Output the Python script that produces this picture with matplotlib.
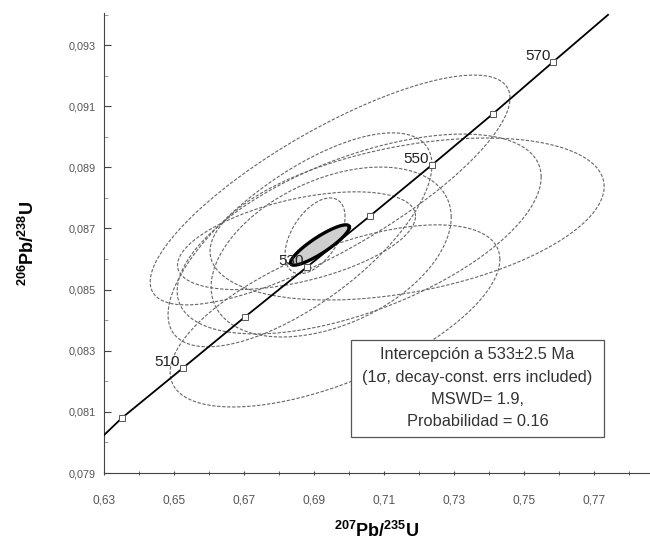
import numpy as np
import matplotlib
matplotlib.use('Agg')
import matplotlib.pyplot as plt
from matplotlib.patches import Rectangle
from matplotlib.ticker import FuncFormatter

plt.rcParams['font.family'] = ['Liberation Sans', 'DejaVu Sans']
plt.rcParams['mathtext.fontset'] = 'custom'
plt.rcParams['mathtext.rm'] = 'Liberation Sans'
plt.rcParams['mathtext.bf'] = 'Liberation Sans:bold'

# concordia curve
conc_x = [0.630, 0.6351, 0.6526, 0.6703, 0.6880, 0.7060, 0.7237, 0.7411, 0.7583, 0.7740]
conc_y = [0.08024, 0.08080, 0.08244, 0.08411, 0.08574, 0.08741, 0.08908, 0.09075, 0.09245, 0.09399]

# age marks on the concordia
ages = [500, 510, 520, 530, 540, 550, 560, 570]
age_x = [0.6351, 0.6526, 0.6703, 0.6880, 0.7060, 0.7237, 0.7411, 0.7583]
age_y = [0.08080, 0.08244, 0.08411, 0.08574, 0.08741, 0.08908, 0.09075, 0.09245]
age_labels = [510, 530, 550, 570]

# analyses: centre, half-widths, correlation
ell_x = [0.6946, 0.7166, 0.7029, 0.6949, 0.6960, 0.6860, 0.6850, 0.6903]
ell_y = [0.08826, 0.08731, 0.08682, 0.08623, 0.08414, 0.08663, 0.08660, 0.08676]
ell_sx = [0.0514, 0.0563, 0.0520, 0.0343, 0.0471, 0.0377, 0.0340, 0.00857]
ell_sy = [0.00376, 0.00265, 0.00327, 0.00278, 0.00298, 0.00350, 0.00160, 0.00124]
ell_rho = [0.80, 0.40, 0.57, 0.41, 0.62, 0.70, 0.50, 0.50]

# mean (intercept) ellipse
mean_x, mean_y = 0.6917, 0.08646
mean_sx, mean_sy, mean_rho = 0.0084, 0.00066, 0.88

x_ticks = [0.63, 0.65, 0.67, 0.69, 0.71, 0.73, 0.75, 0.77]
x_minor = [0.64, 0.66, 0.68, 0.70, 0.72, 0.74, 0.76, 0.78]
y_ticks = [0.079, 0.081, 0.083, 0.085, 0.087, 0.089, 0.091, 0.093]
y_minor = [0.080, 0.082, 0.084, 0.086, 0.088, 0.090, 0.092, 0.094]

box_text = ['Intercepción a 533±2.5 Ma',
            '(1σ, decay-const. errs included)',
            'MSWD= 1.9,',
            'Probabilidad = 0.16']
box_line_y = [0.08289, 0.08214, 0.08142, 0.08070]


def ellipse(cx, cy, sx, sy, rho, n=200):
    t = np.linspace(0, 2 * np.pi, n)
    x = cx + sx * np.cos(t)
    y = cy + sy * (rho * np.cos(t) + np.sqrt(1 - rho ** 2) * np.sin(t))
    return x, y


fig = plt.figure(figsize=(6.5, 5.45), dpi=100)
ax = fig.add_axes([0.16, 0.1321, 0.84, 0.844])

for i in range(len(ell_x)):
    ex, ey = ellipse(ell_x[i], ell_y[i], ell_sx[i], ell_sy[i], ell_rho[i])
    ax.plot(ex, ey, color='#666666', lw=0.8, ls=(0, (3, 1.5)), zorder=2)

mx, my = ellipse(mean_x, mean_y, mean_sx, mean_sy, mean_rho)
ax.fill(mx, my, color='#cfcfcf', zorder=3)
ax.plot(mx, my, color='black', lw=2.4, zorder=4)

ax.plot(conc_x, conc_y, color='black', lw=1.3, zorder=5)
ax.plot(age_x, age_y, ls='none', marker='s', ms=4.5, mfc='white',
        mec='#555555', mew=0.7, zorder=6)
for a, x, y in zip(ages, age_x, age_y):
    if a in age_labels:
        ax.annotate(str(a), (x, y), xytext=(-2, 4), textcoords='offset points',
                    ha='right', va='center', fontsize=11, color='#222222', zorder=7)

# result box
ax.add_patch(Rectangle((0.70057, 0.08018), 0.07229, 0.00317, fc='white',
                       ec='#555555', lw=0.9, zorder=8))
for s, y in zip(box_text, box_line_y):
    ax.text(0.7367, y, s, ha='center', va='center', fontsize=11.8,
            color='#333333', zorder=9)

ax.set_xlim(0.63, 0.786)
ax.set_ylim(0.079, 0.09405)
ax.spines['top'].set_visible(False)
ax.spines['right'].set_visible(False)
ax.spines['left'].set_color('#444444')
ax.spines['bottom'].set_color('#444444')

ax.set_xticks(x_ticks)
ax.set_xticks(x_minor, minor=True)
ax.set_yticks(y_ticks)
ax.set_yticks(y_minor, minor=True)
ax.xaxis.set_major_formatter(FuncFormatter(lambda v, p: ('%.2f' % v).replace('.', ',')))
ax.yaxis.set_major_formatter(FuncFormatter(lambda v, p: ('%.3f' % v).replace('.', ',')))
ax.tick_params(axis='y', which='major', direction='in', length=5, labelsize=7.8,
               labelcolor='#555555', color='#444444', pad=6)
ax.tick_params(axis='y', which='minor', direction='in', length=3, color='#888888')
ax.tick_params(axis='x', which='both', direction='inout', length=3, labelsize=8.6,
               labelcolor='#555555', color='#444444', pad=14)

ax.set_xlabel(r'$\mathbf{^{207}Pb/^{235}U}$', fontsize=13, labelpad=10)
ax.set_ylabel(r'$\mathbf{^{206}Pb/^{238}U}$', fontsize=13, labelpad=22)

fig.savefig('out.png', dpi=100)
